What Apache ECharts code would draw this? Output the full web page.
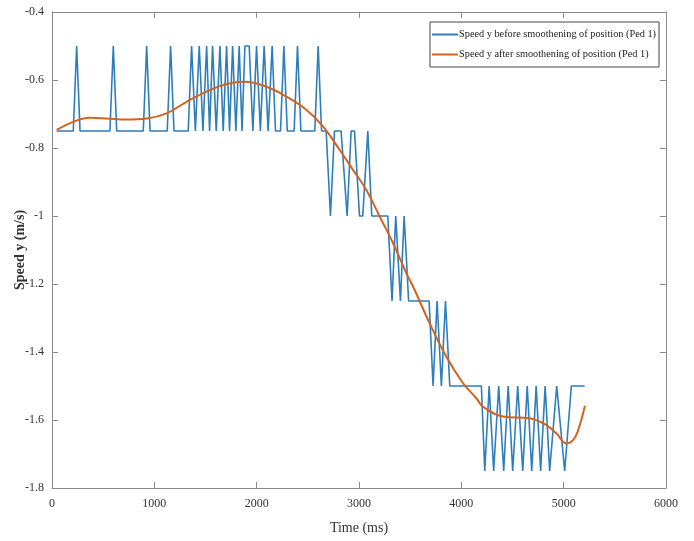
<!DOCTYPE html>
<html>
<head>
<meta charset="utf-8">
<script src="https://cdn.jsdelivr.net/npm/echarts@6/dist/echarts.min.js"></script>
<style>html,body{margin:0;padding:0;background:#fff}#c{width:694px;height:541px}</style>
</head>
<body>
<div id="c"></div>
<script>
const xTicks = [0, 1000, 2000, 3000, 4000, 5000, 6000];
const yTicks = [-1.8, -1.6, -1.4, -1.2, -1, -0.8, -0.6, -0.4];
const seriesNames = ['Speed y before smoothening of position (Ped 1)', 'Speed y after smoothening of position (Ped 1)'];

const blueTime = [46,208,241,274,566,599,632,892,925,958,1126,1159,1192,1331,1364,1401,1439,1475,1511,1540,1569,1605,1641,1673,1706,1735,1765,1797,1829,1857,1885,1927,1963,1999,2036,2073,2112,2151,2184,2233,2266,2299,2366,2399,2432,2568,2601,2634,2679,2721,2760,2825,2884,2923,2956,3005,3037,3086,3125,3281,3323,3359,3405,3441,3485,3685,3724,3763,3805,3845,3887,4196,4229,4272,4316,4365,4414,4458,4502,4551,4600,4644,4688,4731,4775,4819,4863,4932,5010,5075,5205];
const blueSpeed = [-0.75,-0.75,-0.5,-0.75,-0.75,-0.5,-0.75,-0.75,-0.5,-0.75,-0.75,-0.5,-0.75,-0.75,-0.5,-0.75,-0.5,-0.75,-0.5,-0.75,-0.5,-0.75,-0.5,-0.75,-0.5,-0.75,-0.5,-0.75,-0.5,-0.75,-0.5,-0.5,-0.75,-0.5,-0.75,-0.5,-0.75,-0.5,-0.75,-0.75,-0.5,-0.75,-0.75,-0.5,-0.75,-0.75,-0.5,-0.75,-0.75,-1.0,-0.75,-0.75,-1.0,-0.75,-0.75,-1.0,-1.0,-0.75,-1.0,-1.0,-1.25,-1.0,-1.25,-1.0,-1.25,-1.25,-1.5,-1.25,-1.5,-1.25,-1.5,-1.5,-1.75,-1.5,-1.75,-1.5,-1.75,-1.5,-1.75,-1.5,-1.75,-1.5,-1.75,-1.5,-1.75,-1.5,-1.75,-1.5,-1.75,-1.5,-1.5];

const redTime = [46,208,371,534,729,925,1120,1315,1510,1706,1885,2096,2292,2487,2650,2812,2943,3073,3203,3333,3464,3529,3691,3854,4017,4147,4212,4407,4668,4831,4930,5026,5090,5137,5208];
const redSpeed = [-0.747,-0.723,-0.711,-0.713,-0.716,-0.713,-0.698,-0.664,-0.634,-0.612,-0.605,-0.620,-0.649,-0.688,-0.737,-0.806,-0.865,-0.924,-1.002,-1.080,-1.169,-1.208,-1.316,-1.414,-1.492,-1.536,-1.561,-1.590,-1.595,-1.615,-1.640,-1.669,-1.660,-1.634,-1.558];

const blueData = blueTime.map((t, i) => [t, blueSpeed[i]]);
const redData = redTime.map((t, i) => [t, redSpeed[i]]);

const font = 'Liberation Serif';
const axisColor = '#8a8a8a';
const txtColor = '#333';
const xMin = xTicks[0], xMax = xTicks[xTicks.length - 1], xInt = xTicks[1] - xTicks[0];
const yMin = yTicks[0], yMax = yTicks[yTicks.length - 1];
const yInt = 0.2;

const chart = echarts.init(document.getElementById('c'), null, {renderer: 'canvas'});
function axis(extra) {
  return Object.assign({
    type: 'value',
    axisLine: {show: true, onZero: false, lineStyle: {color: axisColor, width: 1}},
    axisTick: {show: true, inside: true, length: 6, lineStyle: {color: axisColor}},
    splitLine: {show: false}
  }, extra);
}
chart.setOption({
  animation: false,
  backgroundColor: '#fff',
  grid: {left: 52, right: 28, top: 12, bottom: 53, containLabel: false, outerBoundsMode: 'none'},
  legend: {
    data: seriesNames,
    orient: 'vertical',
    left: 430, top: 22,
    padding: [6, 3, 6, 2],
    itemGap: 7,
    itemWidth: 26, itemHeight: 2,
    icon: 'rect',
    backgroundColor: '#fff',
    borderColor: '#444', borderWidth: 1,
    textStyle: {fontFamily: font, fontSize: 10.3, lineHeight: 13, color: '#222', padding: [0,0,0,-4]}
  },
  xAxis: [
    axis({min: xMin, max: xMax, interval: xInt, position: 'bottom',
      name: 'Time (ms)', nameLocation: 'middle', nameGap: 33, nameMoveOverlap: false,
      nameTextStyle: {fontFamily: font, fontSize: 14, color: txtColor},
      axisLabel: {color: txtColor, fontFamily: font, fontSize: 12, margin: 10, formatter: v => String(v)}}),
    axis({min: xMin, max: xMax, interval: xInt, position: 'top', axisLabel: {show: false}})
  ],
  yAxis: [
    axis({min: yMin, max: yMax, interval: yInt, position: 'left',
      name: 'Speed y (m/s)', nameLocation: 'middle', nameGap: 25, nameRotate: 90, nameMoveOverlap: false,
      nameTextStyle: {fontFamily: font, fontSize: 14, fontWeight: 'bold', color: txtColor},
      axisLabel: {color: txtColor, fontFamily: font, fontSize: 12, margin: 8,
        formatter: v => String(Math.round(v * 10) / 10)}}),
    axis({min: yMin, max: yMax, interval: yInt, position: 'right', axisLabel: {show: false}})
  ],
  series: [
    {name: seriesNames[0], type: 'line', data: blueData, showSymbol: false, symbol: 'none',
      lineStyle: {color: '#2E7EBB', width: 1.6}, itemStyle: {color: '#2E7EBB'}, z: 2},
    {name: seriesNames[1], type: 'line', data: redData, showSymbol: false, symbol: 'none', smooth: 0.4,
      lineStyle: {color: '#D4631F', width: 2}, itemStyle: {color: '#D4631F'}, z: 3}
  ]
});
</script>
</body>
</html>
